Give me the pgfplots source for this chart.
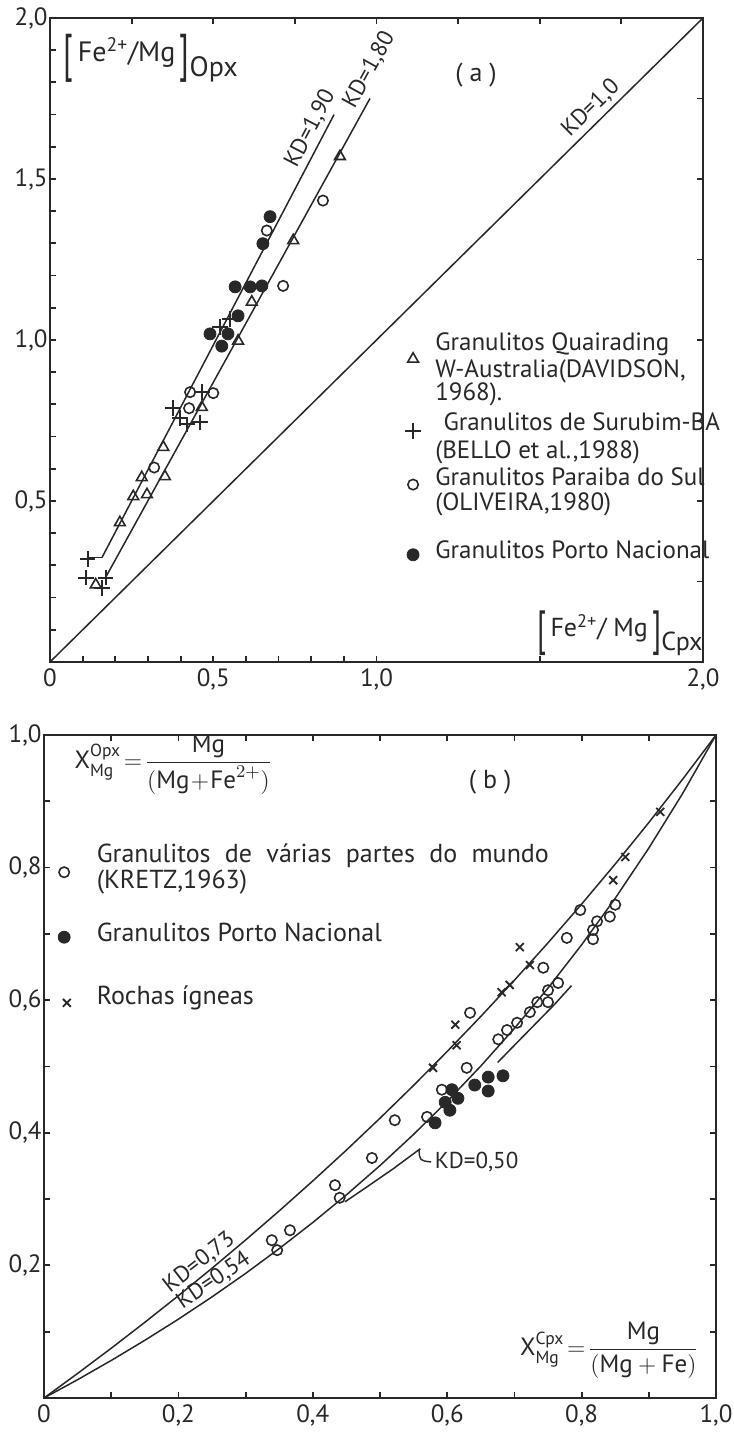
\documentclass[border=0pt]{standalone}
\usepackage{fontspec}
\setmainfont{PT Sans}
\usepackage{amsmath}
\usepackage{graphicx}
\usepackage{pgfplots}
\pgfplotsset{compat=1.18}
\definecolor{ink}{RGB}{40,40,40}
\newcommand\lfont{\fontsize{12.5}{14}\selectfont}
\newcommand\bfont{\fontsize{13}{15}\selectfont}
\newcommand\afont{\fontsize{14}{16}\selectfont}
\newcommand\kfont{\fontsize{11.5}{13}\selectfont}
\newcommand\bigbr[1]{\raisebox{-0.62ex}{\scalebox{1.15}[1.85]{#1}}}
\pgfplotsset{
  frameaxis/.style={scale only axis, anchor=south west, clip=false, axis on top,
    axis line style={ink, line width=1.1pt}, tick style={ink, line width=0.9pt},
    major tick length=3.2pt, tick align=inside,
    ticklabel style={font=\fontsize{12.5}{13}\selectfont, text=ink},
    yticklabel style={inner sep=1pt}},
  tickonly/.style={xticklabels={}, yticklabels={}, xtick pos=right, ytick pos=right},
  ln/.style={ink, line width=0.75pt, no marks},
  otri/.style={only marks, mark=triangle, mark size=3.1pt, mark options={ink, fill=white, line width=0.8pt}},
  oplus/.style={only marks, mark=+, mark size=3.9pt, mark options={ink, line width=1pt}},
  ocirc/.style={only marks, mark=o, mark size=2.6pt, mark options={ink, fill=white, line width=0.8pt}},
  fcirc/.style={only marks, mark=*, mark size=3pt, mark options={ink, fill=ink}},
  ocross/.style={only marks, mark=x, mark size=2.8pt, mark options={ink, line width=0.9pt}},
}
\begin{document}
\begin{tikzpicture}[x=1pt,y=1pt]
\useasboundingbox (0,0) rectangle (366.5,716.5);
%================ panel (a) ================
\begin{axis}[frameaxis, at={(25pt,385.5pt)}, width=326.5pt, height=322pt,
  xmin=0, xmax=2, ymin=0, ymax=2,
  xtick={0,0.1,0.2,0.3,0.4,0.5,0.6,0.7,0.8,0.9,1,1.5,2},
  xticklabels={0,{},{},{},{},{0,5},{},{},{},{},{1,0},{},{2,0}},
  ytick={0.1,0.2,0.3,0.4,0.5,0.6,0.7,0.8,0.9,1,1.1,1.2,1.3,1.4,1.5,1.6,1.7,1.8,1.9,2},
  yticklabels={{},{},{},{},{0,5},{},{},{},{},{1,0},{},{},{},{},{1,5},{},{},{},{},{2,0}},
  xtick pos=left, ytick pos=left]
\addplot[ln] coordinates {(0,0) (2,2)} node[pos=0.8, sloped, anchor=south west, font=\kfont, text=ink, inner sep=2pt] {KD=1,0};
\addplot[ln] coordinates {(0.115,0.324) (0.159,0.324)};
\addplot[ln] coordinates {(0.159,0.324) (0.87,1.70)} node[pos=0.86, sloped, anchor=south west, font=\kfont, text=ink, inner sep=2pt] {KD=1,90};
\addplot[ln] coordinates {(0.17,0.262) (0.98,1.75)} node[pos=0.96, sloped, anchor=south west, font=\kfont, text=ink, inner sep=2pt] {KD=1,80};
% data
\addplot[otri] coordinates {(0.888,1.570) (0.745,1.309) (0.618,1.118) (0.576,0.997) (0.465,0.791) (0.347,0.667) (0.352,0.576) (0.281,0.573) (0.255,0.514) (0.297,0.520) (0.214,0.433) (0.140,0.240)};
\addplot[oplus] coordinates {(0.115,0.320) (0.110,0.262) (0.170,0.262) (0.160,0.230) (0.377,0.788) (0.398,0.758) (0.419,0.738) (0.459,0.744) (0.465,0.838) (0.520,1.040) (0.550,1.065)};
\addplot[ocirc] coordinates {(0.664,1.340) (0.836,1.433) (0.714,1.168) (0.429,0.838) (0.500,0.835) (0.426,0.788) (0.319,0.604)};
\addplot[fcirc] coordinates {(0.674,1.383) (0.652,1.299) (0.567,1.165) (0.613,1.165) (0.649,1.168) (0.576,1.075) (0.545,1.019) (0.490,1.019) (0.526,0.981)};
% legend markers
\addplot[otri] coordinates {(1.112,0.941)};
\addplot[oplus] coordinates {(1.112,0.717)};
\addplot[ocirc] coordinates {(1.112,0.551)};
\addplot[fcirc] coordinates {(1.112,0.333)};
% legend text
\begin{scope}[every node/.style={anchor=base west, font=\lfont, text=ink, inner sep=0pt}]
\node at (axis cs:1.179,0.966) {Granulitos Quairading};
\node at (axis cs:1.179,0.882) {W-Australia(DAVIDSON,};
\node at (axis cs:1.179,0.813) {1968).};
\node at (axis cs:1.204,0.720) {Granulitos de Surubim-BA};
\node at (axis cs:1.179,0.632) {(BELLO et al.,1988)};
\node at (axis cs:1.179,0.548) {Granulitos Paraiba do Sul};
\node at (axis cs:1.179,0.470) {(OLIVEIRA,1980)};
\node at (axis cs:1.179,0.321) {Granulitos Porto Nacional};
\end{scope}
\node[anchor=west, font=\afont, text=ink, inner sep=0pt] at (axis cs:0.04,1.875) {\bigbr{[}\,Fe\textsuperscript{2+}/Mg\,\bigbr{]}\raisebox{-1.1ex}{Opx}};
\node[anchor=south east, font=\bfont, text=ink, inner sep=0pt] at (axis cs:2.0,0.018) {\bigbr{[}\,Fe\textsuperscript{2+}/ Mg\,\bigbr{]}\raisebox{-1.1ex}{Cpx}};
\node[font=\bfont, text=ink] at (axis cs:1.305,1.822) {( a )};
\end{axis}
\begin{axis}[frameaxis, tickonly, at={(25pt,385.5pt)}, width=326.5pt, height=322pt,
  xmin=0, xmax=2, ymin=0, ymax=2,
  xtick={0.25,0.5,0.75,1,1.25,1.5,1.75}, ytick={0.25,0.5,0.75,1,1.25,1.5,1.75}]
\end{axis}
%================ panel (b) ================
\begin{axis}[frameaxis, at={(22pt,17.5pt)}, width=336pt, height=331.5pt,
  xmin=0, xmax=1, ymin=0, ymax=1,
  xtick={0,0.1,0.2,0.3,0.4,0.5,0.6,0.7,0.8,0.9,1},
  xticklabels={0,{},{0,2},{},{0,4},{},{0,6},{},{0,8},{},{1,0}},
  ytick={0.1,0.2,0.3,0.4,0.5,0.6,0.7,0.8,0.9,1},
  yticklabels={{},{0,2},{},{0,4},{},{0,6},{},{0,8},{},{1,0}},
  xtick pos=left, ytick pos=left]
% KD = 0.73
\addplot[ln] coordinates {(0,0) (0.05,0.0370) (0.1,0.0750) (0.15,0.1141) (0.2,0.1543) (0.25,0.1957) (0.3,0.2383) (0.35,0.2822) (0.4,0.3274) (0.45,0.3739) (0.5,0.4220) (0.55,0.4715) (0.6,0.5227) (0.65,0.5755) (0.7,0.6301) (0.75,0.6865) (0.8,0.7449) (0.85,0.8053) (0.9,0.8679) (0.95,0.9328) (1,1)};
% KD = 0.54
\addplot[ln] coordinates {(0,0) (0.05,0.0276) (0.1,0.0566) (0.15,0.0870) (0.2,0.1189) (0.25,0.1525) (0.3,0.1879) (0.35,0.2253) (0.4,0.2647) (0.45,0.3064) (0.5,0.3506) (0.55,0.3976) (0.6,0.4475) (0.65,0.5007) (0.7,0.5575) (0.75,0.6183) (0.8,0.6835) (0.85,0.7537) (0.9,0.8294) (0.95,0.9112) (1,1)};
% KD = 0.50 segments
\addplot[ln] coordinates {(0.448,0.296) (0.48,0.318) (0.52,0.346) (0.56,0.376)};
\addplot[ln] coordinates {(0.675,0.506) (0.70,0.532) (0.73,0.563) (0.76,0.594) (0.785,0.622)};
\draw[ink, line width=0.7pt] (axis cs:0.558,0.375) .. controls (axis cs:0.559,0.358) .. (axis cs:0.576,0.356);
\node[anchor=west, font=\kfont, text=ink, inner sep=1pt] at (axis cs:0.578,0.356) {KD=0,50};
\node[anchor=south, rotate=38, font=\kfont, text=ink, inner sep=1.5pt] at (axis cs:0.243,0.1890) {KD=0,73};
\node[anchor=south, rotate=34, font=\kfont, text=ink, inner sep=1.2pt] at (axis cs:0.263,0.1616) {KD=0,54};
% data
\addplot[ocirc] coordinates {(0.798,0.736) (0.778,0.694) (0.817,0.706) (0.823,0.719) (0.842,0.726) (0.850,0.744) (0.817,0.692) (0.743,0.649) (0.765,0.626) (0.750,0.615) (0.750,0.597) (0.734,0.597) (0.723,0.582) (0.704,0.566) (0.689,0.555) (0.676,0.541) (0.634,0.581) (0.629,0.498) (0.592,0.465) (0.570,0.424) (0.522,0.419) (0.488,0.362) (0.433,0.321) (0.440,0.302) (0.339,0.238) (0.347,0.223) (0.366,0.253)};
\addplot[fcirc] coordinates {(0.607,0.465) (0.616,0.452) (0.597,0.446) (0.604,0.434) (0.582,0.415) (0.641,0.472) (0.661,0.484) (0.683,0.486) (0.661,0.463)};
\addplot[ocross] coordinates {(0.917,0.884) (0.865,0.816) (0.847,0.781) (0.708,0.680) (0.723,0.653) (0.681,0.612) (0.693,0.623) (0.612,0.563) (0.614,0.532) (0.579,0.498)};
% legend
\addplot[ocirc] coordinates {(0.03,0.793)};
\addplot[fcirc] coordinates {(0.03,0.695)};
\addplot[ocross] coordinates {(0.034,0.596)};
\begin{scope}[every node/.style={anchor=base west, font=\bfont, text=ink, inner sep=0pt}]
\node at (axis cs:0.078,0.808) {\spaceskip=0.55em plus 0.1em Granulitos de várias partes do mundo};
\node at (axis cs:0.078,0.769) {(KRETZ,1963)};
\node at (axis cs:0.078,0.688) {Granulitos Porto Nacional};
\node at (axis cs:0.078,0.593) {Rochas ígneas};
\end{scope}
\node[anchor=west, font=\lfont, text=ink, inner sep=0pt] at (axis cs:0.045,0.955) {$\text{X}^{\text{Opx}}_{\text{Mg}}\!=\!\dfrac{\text{Mg}}{(\text{Mg}\!+\!\text{Fe}^{2+})}$};
\node[anchor=east, font=\lfont, text=ink, inner sep=0pt] at (axis cs:0.975,0.072) {$\text{X}^{\text{Cpx}}_{\text{Mg}}\!=\!\dfrac{\text{Mg}}{(\text{Mg}+\text{Fe})}$};
\node[font=\bfont, text=ink] at (axis cs:0.664,0.929) {( b )};
\end{axis}
\begin{axis}[frameaxis, tickonly, at={(22pt,17.5pt)}, width=336pt, height=331.5pt,
  xmin=0, xmax=1, ymin=0, ymax=1,
  xtick={0.1,0.2,0.3,0.4,0.5,0.6,0.7,0.8,0.9}, ytick={0.1,0.2,0.3,0.4,0.5,0.6,0.7,0.8,0.9}]
\end{axis}
\end{tikzpicture}
\end{document}
